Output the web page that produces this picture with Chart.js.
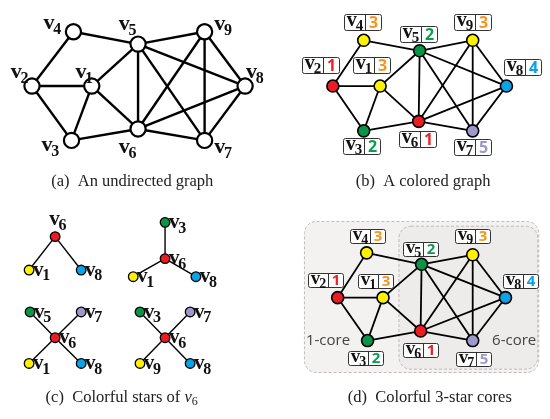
<!DOCTYPE html>
<html>
<head>
<meta charset="utf-8">
<script src="https://cdn.jsdelivr.net/npm/chart.js@4/dist/chart.umd.min.js"></script>
<style>
  html, body { margin: 0; padding: 0; background: #fff; }
  #wrap { width: 550px; height: 419px; }
</style>
</head>
<body>
<div id="wrap"><canvas id="fig" width="550" height="419"></canvas></div>
<script>
// ---- graph data ----
const vertices = [1, 2, 3, 4, 5, 6, 7, 8, 9];
// colour class assigned to each vertex v1..v9
const colouring = [3, 1, 2, 3, 2, 1, 5, 4, 3];
const edges = [
  [4, 2], [4, 5], [2, 1], [2, 3], [1, 3], [1, 5], [1, 6], [3, 6], [5, 6],
  [5, 9], [5, 8], [5, 7], [9, 6], [9, 7], [9, 8], [8, 6], [8, 7], [6, 7]
];
// colourful stars centred on v6: [centre, ...leaves]
const stars = [[6, 1, 8], [6, 3, 1, 8], [6, 5, 7, 1, 8], [6, 3, 7, 9, 8]];
const coreNames = ['1-core', '6-core'];
const captions = ['(a)  An undirected graph', '(b)  A colored graph', '(c)  Colorful stars of ', '(d)  Colorful 3-star cores'];

// ---- layout (drawing coordinates of each vertex per panel) ----
const layoutA = { 1: [85, 80], 2: [23, 80], 3: [64, 137], 4: [66, 23], 5: [133, 36], 6: [133, 125], 7: [202, 137], 8: [244, 80], 9: [202, 23] };
const layoutB = { 1: [384, 80], 2: [335, 80], 3: [367, 127], 4: [367, 32], 5: [425, 43], 6: [424, 117], 7: [480, 127], 8: [515, 80], 9: [480, 32] };
const layoutD = { 1: [387, 302], 2: [340, 302], 3: [371, 347], 4: [370, 255], 5: [427, 267], 6: [426, 337], 7: [480, 347], 8: [514, 302], 9: [480, 257] };
const layoutStars = [
  { 6: [47, 238], 1: [20, 273], 8: [74, 273] },
  { 6: [161, 261], 3: [161, 223], 1: [128, 280], 8: [193, 280] },
  { 6: [47, 344], 5: [21, 317], 7: [74, 317], 1: [20, 371], 8: [74, 371] },
  { 6: [161, 344], 3: [135, 317], 7: [187, 317], 9: [135, 371], 8: [187, 371] }
];
// name labels in panel (a): [left, baseline]
const labelsA = { 1: [68, 72], 2: [1, 72], 3: [33, 148], 4: [35, 20], 5: [113, 21], 6: [113, 150], 7: [212, 150], 8: [245, 72], 9: [212, 21] };
// centres of the name|colour boxes
const boxesB = { 1: [375, 58], 2: [322, 58], 3: [365, 143], 4: [366, 12.5], 5: [424, 25], 6: [423, 136], 7: [480, 144], 8: [532, 60.5], 9: [480, 12.5] };
const boxesD = { 1: [379, 284], 2: [327.5, 283.5], 3: [369, 365], 4: [370.5, 237.5], 5: [426, 251], 6: [426, 357], 7: [481, 366], 8: [530, 284], 9: [480, 237.5] };

const nodeFill = { 1: '#ec1c24', 2: '#0a9447', 3: '#fff200', 4: '#0ba3e8', 5: '#9d9acb' };
const digitFill = { 1: '#e8232b', 2: '#0b9d4b', 3: '#f7941d', 4: '#0aa2e6', 5: '#9c98c9' };
const colourOf = v => colouring[vertices.indexOf(v)];

const pt = p => ({ x: p[0], y: p[1] });

function edgeSets(layout, width) {
  return edges.map(([a, b]) => ({
    data: [pt(layout[a]), pt(layout[b])],
    showLine: true, borderColor: '#000', borderWidth: width,
    pointRadius: 0, order: 2
  }));
}
function nodeSet(layout, ids, radius, bw, filled) {
  return {
    data: ids.map(v => pt(layout[v])),
    pointRadius: radius, pointHoverRadius: radius,
    pointBackgroundColor: ids.map(v => filled ? nodeFill[colourOf(v)] : '#fff'),
    pointBorderColor: '#000', pointBorderWidth: bw, order: 0
  };
}

const datasets = [];
datasets.push(...edgeSets(layoutA, 2.4), nodeSet(layoutA, vertices, 7.6, 2.2, false));
datasets.push(...edgeSets(layoutB, 1.8), nodeSet(layoutB, vertices, 6, 1.6, true));
datasets.push(...edgeSets(layoutD, 1.8), nodeSet(layoutD, vertices, 6, 1.6, true));
stars.forEach((s, i) => {
  const L = layoutStars[i];
  s.slice(1).forEach(leaf => datasets.push({
    data: [pt(L[s[0]]), pt(L[leaf])], showLine: true, borderColor: '#000',
    borderWidth: 1.4, pointRadius: 0, order: 2
  }));
  datasets.push(nodeSet(L, s, 4.8, 1.3, true));
});

// ---- text helpers ----
const SERIF = '"Liberation Serif", "DejaVu Serif", serif';
const SANS = '"Open Sans", "Noto Sans", "DejaVu Sans", sans-serif';

function vName(ctx, x, y, d, size) {
  ctx.fillStyle = '#111';
  ctx.textAlign = 'left';
  ctx.textBaseline = 'alphabetic';
  ctx.font = `bold ${size}px ${SERIF}`;
  ctx.fillText('v', x, y);
  const w = ctx.measureText('v').width;
  ctx.font = `bold ${Math.round(size * 0.74)}px ${SERIF}`;
  ctx.fillText(String(d), x + w - size * 0.06, y + size * 0.22);
}
function vNameWidth(ctx, d, size) {
  ctx.font = `bold ${size}px ${SERIF}`;
  const w = ctx.measureText('v').width;
  ctx.font = `bold ${Math.round(size * 0.74)}px ${SERIF}`;
  return w - size * 0.06 + ctx.measureText(String(d)).width;
}
function roundRect(ctx, x, y, w, h, r) {
  ctx.beginPath();
  ctx.moveTo(x + r, y);
  ctx.arcTo(x + w, y, x + w, y + h, r);
  ctx.arcTo(x + w, y + h, x, y + h, r);
  ctx.arcTo(x, y + h, x, y, r);
  ctx.arcTo(x, y, x + w, y, r);
  ctx.closePath();
}
function nameBox(ctx, cx, cy, v, w, h, size) {
  const x0 = Math.round(cx - w / 2) + 0.5, y0 = Math.round(cy - h / 2) + 0.5;
  roundRect(ctx, x0, y0, w, h, 2);
  ctx.fillStyle = '#fff';
  ctx.fill();
  ctx.strokeStyle = '#333';
  ctx.lineWidth = 1;
  ctx.stroke();
  const split = x0 + Math.round(w * 0.58);
  ctx.beginPath();
  ctx.moveTo(split, y0);
  ctx.lineTo(split, y0 + h);
  ctx.stroke();
  const nw = vNameWidth(ctx, v, size);
  vName(ctx, x0 + (split - x0 - nw) / 2, y0 + h * 0.72, v, size);
  ctx.font = `bold ${Math.round(size * 0.78)}px ${SANS}`;
  ctx.fillStyle = digitFill[colourOf(v)];
  ctx.textAlign = 'center';
  ctx.textBaseline = 'middle';
  ctx.fillText(String(colourOf(v)), (split + x0 + w) / 2, y0 + h / 2 + 0.5);
}
function caption(ctx, text, cx, y, italicTail) {
  ctx.fillStyle = '#222';
  ctx.textBaseline = 'alphabetic';
  ctx.textAlign = 'left';
  ctx.font = `16.5px ${SERIF}`;
  let w = ctx.measureText(text).width;
  let tailW = 0;
  if (italicTail) {
    ctx.font = `italic 16.5px ${SERIF}`;
    tailW += ctx.measureText('v').width;
    ctx.font = `12px ${SERIF}`;
    tailW += ctx.measureText(italicTail).width;
  }
  const x = cx - (w + tailW) / 2;
  ctx.font = `16.5px ${SERIF}`;
  ctx.fillText(text, x, y);
  if (italicTail) {
    ctx.font = `italic 16.5px ${SERIF}`;
    ctx.fillText('v', x + w, y);
    const vw = ctx.measureText('v').width;
    ctx.font = `12px ${SERIF}`;
    ctx.fillText(italicTail, x + w + vw, y + 3);
  }
}

const figurePlugin = {
  id: 'figureDecor',
  beforeDatasetsDraw(chart) {
    const { ctx, scales: { x, y } } = chart;
    const px = v => x.getPixelForValue(v), py = v => y.getPixelForValue(v);
    ctx.save();
    // core regions of panel (d)
    ctx.setLineDash([3, 2]);
    ctx.lineWidth = 1;
    ctx.strokeStyle = '#bdbbb9';
    roundRect(ctx, px(305) + 0.5, py(221.5) + 0.5, px(549) - px(305) - 1, py(380) - py(221.5), 12);
    ctx.fillStyle = '#f4f2f1';
    ctx.fill();
    ctx.stroke();
    roundRect(ctx, px(403) + 0.5, py(226.5) + 0.5, px(548) - px(403) - 1, py(376.5) - py(226.5), 12);
    ctx.fillStyle = '#eeecea';
    ctx.fill();
    ctx.stroke();
    ctx.restore();
  },
  afterDatasetsDraw(chart) {
    const { ctx, scales: { x, y } } = chart;
    const px = v => x.getPixelForValue(v), py = v => y.getPixelForValue(v);
    ctx.save();
    // panel (a) names
    vertices.forEach(v => vName(ctx, px(labelsA[v][0]), py(labelsA[v][1]), v, 22));
    // panels (b) and (d) name|colour boxes
    vertices.forEach(v => nameBox(ctx, px(boxesB[v][0]), py(boxesB[v][1]), v, 37, 16, 20));
    vertices.forEach(v => nameBox(ctx, px(boxesD[v][0]), py(boxesD[v][1]), v, 35, 14, 19));
    // panel (c) names
    stars.forEach((s, i) => {
      const L = layoutStars[i];
      s.forEach((v, k) => {
        const [nx, ny] = L[v];
        if (k === 0 && i === 0) vName(ctx, px(nx - 6), py(ny - 12), v, 21);
        else vName(ctx, px(nx + 4), py(ny + 6), v, 21);
      });
    });
    // core names
    ctx.font = `15px ${SANS}`;
    ctx.fillStyle = '#444';
    ctx.textAlign = 'center';
    ctx.textBaseline = 'middle';
    ctx.fillText(coreNames[0], px(330), py(347));
    ctx.fillText(coreNames[1], px(523), py(347));
    // captions
    caption(ctx, captions[0], px(127), py(185));
    caption(ctx, captions[1], px(428.5), py(185));
    caption(ctx, captions[2], px(116), py(411), '6');
    caption(ctx, captions[3], px(435.5), py(411));
    ctx.restore();
  }
};

new Chart(document.getElementById('fig'), {
  type: 'scatter',
  data: { datasets },
  options: {
    responsive: false,
    animation: false,
    events: [],
    layout: { padding: 0 },
    scales: {
      x: { type: 'linear', min: 0, max: 550, display: false },
      y: { type: 'linear', min: 0, max: 419, reverse: true, display: false }
    },
    plugins: { legend: { display: false }, tooltip: { enabled: false } }
  },
  plugins: [figurePlugin]
});
</script>
</body>
</html>
